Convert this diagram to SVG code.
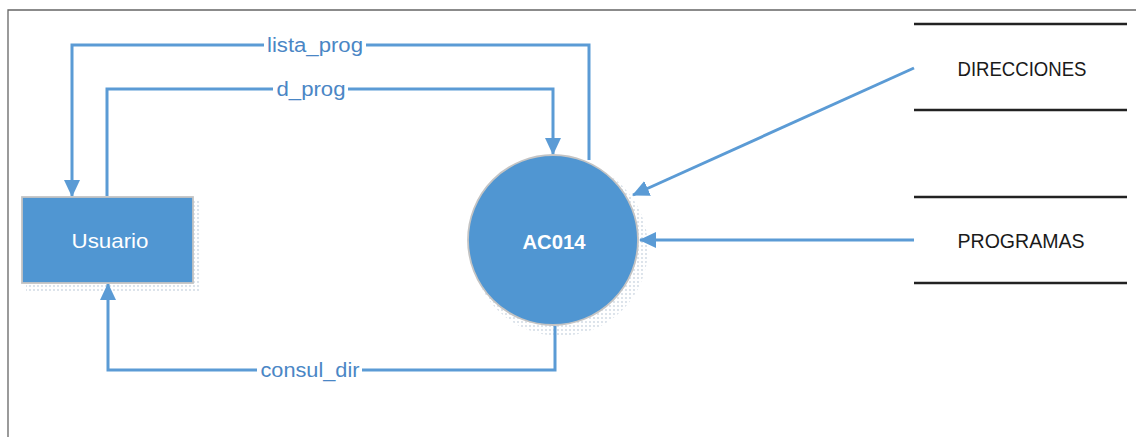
<svg xmlns="http://www.w3.org/2000/svg" width="1136" height="437" viewBox="0 0 1136 437">
  <style>
    .conn { fill: none; stroke: #5B9BD5; stroke-width: 3; }
    .lbl { font-family: "Liberation Sans", Arial, sans-serif; font-size: 20px; fill: #4A86C5; text-anchor: middle; }
    .store { stroke: #222; stroke-width: 2.5; }
    .storeTxt { font-family: "Liberation Sans", Arial, sans-serif; font-size: 21px; fill: #1a1a1a; text-anchor: middle; }
    .node { fill: #5096D2; stroke: #C4C4C4; stroke-width: 1.8; }
  </style>
  <defs>
    <marker id="arr" markerUnits="userSpaceOnUse" markerWidth="18" markerHeight="18" viewBox="0 0 18 18" refX="16" refY="9" orient="auto">
      <path d="M0,1 L17,9 L0,17 Z" fill="#5B9BD5"/>
    </marker>
    <pattern id="dots" width="4" height="4" patternUnits="userSpaceOnUse">
      <circle cx="2" cy="2" r="0.9" fill="#8FA6BE"/>
    </pattern>
  </defs>
  <rect width="1136" height="437" fill="#fff"/>
  <path d="M8,437 L8,10 L1136,10" fill="none" stroke="#666" stroke-width="1.3"/>

  <g id="shadows" opacity="0.45">
    <rect x="26" y="201" width="174" height="92" fill="url(#dots)"/>
    <circle cx="560" cy="248" r="88" fill="url(#dots)"/>
  </g>

  <g id="connectors">
    <polyline class="conn" points="589,160 589,45 72,45 72,196" marker-end="url(#arr)"/>
    <polyline class="conn" points="107,196 107,89 553,89 553,154" marker-end="url(#arr)"/>
    <polyline class="conn" points="555,326 555,370 108,370 108,284" marker-end="url(#arr)"/>
    <line class="conn" x1="914" y1="68" x2="633" y2="195" marker-end="url(#arr)"/>
    <line class="conn" x1="914" y1="240" x2="640" y2="240" marker-end="url(#arr)"/>
    <rect x="264" y="33" width="102" height="24" fill="#fff"/>
    <text class="lbl" x="315" y="52" textLength="96" lengthAdjust="spacingAndGlyphs">lista_prog</text>
    <rect x="273" y="77" width="75" height="24" fill="#fff"/>
    <text class="lbl" x="311" y="96" textLength="69" lengthAdjust="spacingAndGlyphs">d_prog</text>
    <rect x="257" y="358" width="105" height="24" fill="#fff"/>
    <text class="lbl" x="310" y="377" textLength="99" lengthAdjust="spacingAndGlyphs">consul_dir</text>
  </g>

  <g id="usuario">
    <rect class="node" x="22" y="197" width="171" height="86"/>
    <text x="110" y="248" font-family="Liberation Sans, Arial, sans-serif" font-size="21" fill="#fff" text-anchor="middle" textLength="77" lengthAdjust="spacingAndGlyphs">Usuario</text>
  </g>

  <g id="ac014">
    <circle class="node" cx="553" cy="240" r="85"/>
    <text x="554" y="249" font-family="Liberation Sans, Arial, sans-serif" font-size="21" font-weight="bold" fill="#fff" text-anchor="middle" textLength="63" lengthAdjust="spacingAndGlyphs">AC014</text>
  </g>

  <g id="direcciones">
    <line class="store" x1="914" y1="24" x2="1127" y2="24"/>
    <line class="store" x1="914" y1="110" x2="1127" y2="110"/>
    <text class="storeTxt" x="1022" y="76" textLength="129" lengthAdjust="spacingAndGlyphs">DIRECCIONES</text>
  </g>

  <g id="programas">
    <line class="store" x1="914" y1="197" x2="1127" y2="197"/>
    <line class="store" x1="914" y1="283" x2="1127" y2="283"/>
    <text class="storeTxt" x="1021" y="248" textLength="127" lengthAdjust="spacingAndGlyphs">PROGRAMAS</text>
  </g>
</svg>
